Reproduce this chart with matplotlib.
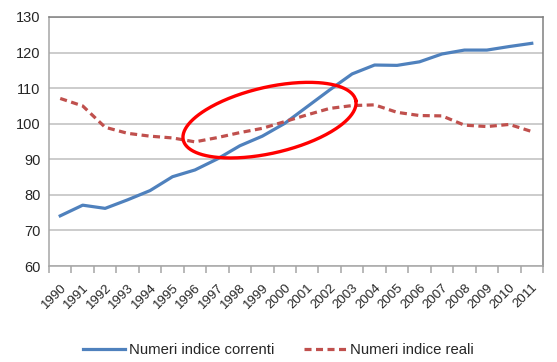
import numpy as np
import matplotlib
matplotlib.use("Agg")
import matplotlib.pyplot as plt
from matplotlib.transforms import ScaledTranslation

years = [str(y) for y in range(1990, 2012)]
correnti = [74.1, 77.1, 76.2, 78.6, 81.2, 85.1, 87.0, 90.1, 93.8, 96.5, 100.1, 104.8,
            109.5, 114.0, 116.5, 116.4, 117.4, 119.6, 120.7, 120.7, 121.7, 122.6]
reali = [107.1, 105.0, 99.0, 97.3, 96.5, 96.0, 94.9, 96.1, 97.5, 98.7, 100.6, 102.5,
         104.3, 105.1, 105.3, 103.2, 102.3, 102.2, 99.6, 99.2, 99.8, 97.8]
yticks = [60, 70, 80, 90, 100, 110, 120, 130]

plt.rcParams['font.family'] = ['Liberation Sans', 'DejaVu Sans']

fig = plt.figure(figsize=(5.57, 3.62), dpi=100)
ax = fig.add_axes([49/557, 1-266/362, (543-49)/557, (266-17)/362])

x = np.arange(len(years))
ax.plot(x, correnti, color='#4F81BD', lw=2.3, label='Numeri indice correnti', zorder=3)
ax.plot(x, reali, color='#C0504D', lw=2.3, ls=(0, (2.2, 1.4)), label='Numeri indice reali', zorder=3)

ax.set_xlim(-0.5, len(years) - 0.5)
ax.set_ylim(60, 130)
ax.set_yticks(yticks)
ax.set_yticklabels([str(v) for v in yticks], fontsize=10.5, color='#262626')
ax.yaxis.grid(True, color='#BFBFBF', lw=1.1)
ax.set_axisbelow(True)
ax.tick_params(axis='y', length=0, pad=6)

ax.set_xticks(np.arange(-0.5, len(years), 1.0))
ax.set_xticklabels([])
ax.set_xticks(x, minor=True)
labels = ax.set_xticklabels(years, minor=True, rotation=45, ha='right', va='top',
                            fontsize=9.5, color='#262626', rotation_mode='anchor')
off = ScaledTranslation(4/100, 0, fig.dpi_scale_trans)
for lb in labels:
    lb.set_transform(lb.get_transform() + off)
ax.tick_params(axis='x', which='major', length=5, color='#A6A6A6', width=1.1)
ax.tick_params(axis='x', which='minor', length=0, pad=11)

for s in ['left', 'bottom']:
    ax.spines[s].set_color('#A6A6A6')
    ax.spines[s].set_linewidth(1.1)
for s in ['top', 'right']:
    ax.spines[s].set_color('#808080')
    ax.spines[s].set_linewidth(1.1)

# red ellipse annotation (drawn in pixel space, mapped back to data)
fig.canvas.draw()
cx, cy = ax.transData.transform((9.32, 101.0))
a, b, th = 88.5, 33.0, np.deg2rad(13)
t = np.linspace(0, 2*np.pi, 300)
px = cx + a*np.cos(t)*np.cos(th) - b*np.sin(t)*np.sin(th)
py = cy + a*np.cos(t)*np.sin(th) + b*np.sin(t)*np.cos(th)
pts = ax.transData.inverted().transform(np.column_stack([px, py]))
ax.plot(pts[:, 0], pts[:, 1], color='#FF0000', lw=2.4, zorder=4, clip_on=False)

fig.legend(loc='center', bbox_to_anchor=(0.5, 1-350/362), ncol=2, frameon=False,
           fontsize=10.7, handlelength=2.8, columnspacing=2.0, handletextpad=0.3,
           labelcolor='#262626', borderpad=0)

fig.savefig('out.png', dpi=100)
